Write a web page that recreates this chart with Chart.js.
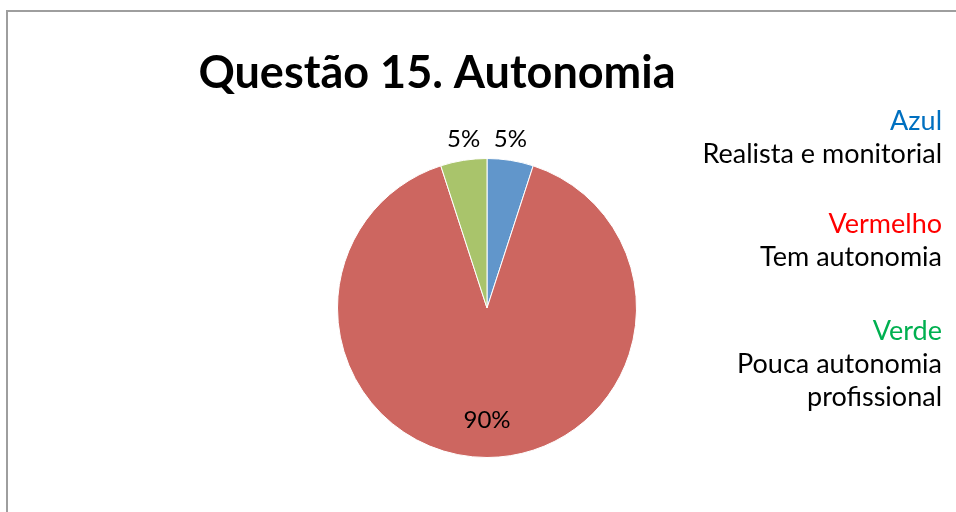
<!DOCTYPE html>
<html>
<head>
<meta charset="utf-8">
<script src="https://cdn.jsdelivr.net/npm/chart.js@4/dist/chart.umd.min.js"></script>
<style>
  html, body { margin: 0; padding: 0; background: #fff; }
  #wrap { width: 956px; height: 512px; position: relative; }
</style>
</head>
<body>
<div id="wrap"><canvas id="chart" width="956" height="512"></canvas></div>
<script>
var categories = ["Azul", "Vermelho", "Verde"];
var values = [5, 90, 5];
var sliceColors = ["rgb(97,150,203)", "rgb(205,102,96)", "rgb(169,196,107)"];
var title = "Questão 15. Autonomia";

// right-hand notes: coloured name, then its meaning
var noteNames = ["Azul", "Vermelho", "Verde"];
var noteColors = ["#0070C0", "#FF0000", "#00B050"];
var noteLines = [["Realista e monitorial"], ["Tem autonomia"], ["Pouca autonomia", "profissional"]];

var FONT = "Lato, 'Open Sans', sans-serif";

var decorations = {
  id: 'decorations',
  afterDraw: function (chart) {
    var ctx = chart.ctx;
    ctx.save();

    // frame
    ctx.strokeStyle = "#9e9e9e";
    ctx.lineWidth = 2;
    ctx.beginPath();
    ctx.moveTo(7, 512);
    ctx.lineTo(7, 11);
    ctx.lineTo(956, 11);
    ctx.stroke();

    // title
    ctx.fillStyle = "#000";
    ctx.font = "bold 45px " + FONT;
    ctx.textAlign = "center";
    ctx.textBaseline = "alphabetic";
    ctx.fillText(title, 437, 88);

    // percentage labels from the arcs
    var meta = chart.getDatasetMeta(0);
    var total = values.reduce(function (a, b) { return a + b; }, 0);
    ctx.font = "24px " + FONT;
    ctx.textBaseline = "middle";
    meta.data.forEach(function (arc, i) {
      var p = arc.getProps(['x', 'y', 'startAngle', 'endAngle', 'outerRadius'], true);
      var mid = (p.startAngle + p.endAngle) / 2;
      var pct = Math.round(values[i] / total * 100) + "%";
      var x, y;
      if (values[i] / total < 0.2) {
        // small slices: label just outside the rim
        x = p.x + Math.cos(mid) * p.outerRadius;
        y = p.y + Math.sin(mid) * p.outerRadius * 1.14;
      } else {
        x = p.x + Math.cos(mid) * p.outerRadius * 0.75;
        y = p.y + Math.sin(mid) * p.outerRadius * 0.75;
      }
      ctx.fillText(pct, x, y);
    });

    // notes on the right
    ctx.textAlign = "right";
    ctx.textBaseline = "alphabetic";
    ctx.font = "27px " + FONT;
    var tops = [130, 233, 340];
    noteNames.forEach(function (name, i) {
      var y = tops[i];
      ctx.fillStyle = noteColors[i];
      ctx.fillText(name, 942, y);
      ctx.fillStyle = "#000";
      noteLines[i].forEach(function (line, j) {
        ctx.fillText(line, 942, y + 33 * (j + 1));
      });
    });

    ctx.restore();
  }
};

new Chart('chart', {
  type: 'pie',
  data: {
    labels: categories,
    datasets: [{
      data: values,
      backgroundColor: sliceColors,
      borderColor: "#fff",
      borderWidth: 1
    }]
  },
  options: {
    responsive: false,
    animation: false,
    layout: { padding: { top: 158, bottom: 54, left: 300, right: 282 } },
    plugins: {
      legend: { display: false },
      tooltip: { enabled: false }
    }
  },
  plugins: [decorations]
});
</script>
</body>
</html>
